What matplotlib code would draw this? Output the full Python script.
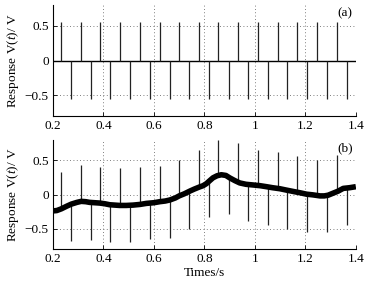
import numpy as np
import matplotlib.pyplot as plt

plt.rcParams['font.family'] = ['Liberation Serif', 'DejaVu Serif']
plt.rcParams['mathtext.fontset'] = 'custom'
plt.rcParams['mathtext.it'] = 'Liberation Serif:italic'
plt.rcParams['mathtext.rm'] = 'Liberation Serif'

# spike times (s)
pos_times = [0.230, 0.311, 0.386, 0.466, 0.545, 0.623, 0.700, 0.779,
             0.853, 0.933, 1.013, 1.091, 1.167, 1.248, 1.326]
neg_times = [0.271, 0.349, 0.426, 0.505, 0.585, 0.663, 0.739, 0.818,
             0.896, 0.973, 1.052, 1.128, 1.207, 1.285, 1.363]
spike_amp = 0.55

# (b) slow drift of the response
drift_t = [0.200, 0.215, 0.233, 0.255, 0.273, 0.295, 0.312, 0.330, 0.345, 0.365,
           0.385, 0.405, 0.425, 0.445, 0.464, 0.490, 0.517, 0.545, 0.570, 0.600,
           0.623, 0.645, 0.663, 0.685, 0.700, 0.720, 0.742, 0.760, 0.780, 0.795,
           0.808, 0.820, 0.834, 0.850, 0.867, 0.885, 0.900, 0.920, 0.940, 0.965,
           0.993, 1.020, 1.046, 1.070, 1.099, 1.125, 1.152, 1.180, 1.205, 1.230,
           1.258, 1.275, 1.290, 1.310, 1.330, 1.350, 1.375, 1.400]
drift_v = [-0.24, -0.235, -0.21, -0.17, -0.14, -0.115, -0.10, -0.105, -0.115, -0.12,
           -0.125, -0.135, -0.15, -0.155, -0.16, -0.16, -0.155, -0.145, -0.13, -0.12,
           -0.105, -0.095, -0.08, -0.05, -0.02, 0.01, 0.05, 0.08, 0.11, 0.13,
           0.16, 0.20, 0.245, 0.275, 0.29, 0.28, 0.245, 0.205, 0.17, 0.15,
           0.14, 0.13, 0.115, 0.10, 0.085, 0.065, 0.045, 0.025, 0.005, -0.005,
           -0.02, -0.02, -0.01, 0.02, 0.05, 0.09, 0.10, 0.115]

# (b) spike tips
pos_tips = [0.33, 0.44, 0.41, 0.385, 0.40, 0.42, 0.51, 0.66,
            0.80, 0.75, 0.66, 0.625, 0.57, 0.51, 0.58]
neg_tips = [-0.68, -0.67, -0.69, -0.69, -0.655, -0.63, -0.50, -0.33,
            -0.28, -0.39, -0.44, -0.50, -0.55, -0.55, -0.44]

xticks = [0.2, 0.4, 0.6, 0.8, 1.0, 1.2, 1.4]
xlabels = ['0.2', '0.4', '0.6', '0.8', '1', '1.2', '1.4']
yticks = [-0.5, 0, 0.5]
ylabels = ['\u22120.5', '0', '0.5']

fs = 9.5
fig = plt.figure(figsize=(3.73, 2.91), dpi=100)
ax1 = fig.add_axes([0.142, 0.601, 0.812, 0.382])
ax2 = fig.add_axes([0.142, 0.144, 0.812, 0.375])


def style(ax, tag):
    ax.set_xlim(0.2, 1.4)
    ax.set_ylim(-0.8, 0.8)
    ax.set_xticks(xticks)
    ax.set_xticklabels(xlabels)
    ax.set_yticks(yticks)
    ax.set_yticklabels(ylabels)
    ax.tick_params(direction='in', length=3, width=0.6, labelsize=fs, pad=3)
    for s in ['top', 'right']:
        ax.spines[s].set_visible(False)
    for s in ['left', 'bottom']:
        ax.spines[s].set_linewidth(0.8)
    ax.grid(True, linestyle=(0, (1, 3)), color='#555555', linewidth=0.6)
    ax.set_axisbelow(True)
    ax.set_ylabel('Response V($t$)/ V', fontsize=fs, labelpad=3)
    ax.text(0.99, 0.975, tag, transform=ax.transAxes, ha='right', va='top', fontsize=fs)


# (a) alternating pulses
ax1.hlines(0, 0.2, 1.4, color='black', lw=1.0)
ax1.vlines(pos_times, 0, spike_amp, color='#222222', lw=0.9)
ax1.vlines(neg_times, -spike_amp, 0, color='#222222', lw=0.9)
style(ax1, '(a)')

# (b) pulses riding on a drifting baseline
pos_base = np.interp(pos_times, drift_t, drift_v)
neg_base = np.interp(neg_times, drift_t, drift_v)
ax2.vlines(pos_times, pos_base, pos_tips, color='#222222', lw=0.9)
ax2.vlines(neg_times, neg_tips, neg_base, color='#222222', lw=0.9)
ax2.plot(drift_t, drift_v, color='black', lw=4.0, solid_capstyle='butt')
style(ax2, '(b)')
ax2.set_xlabel('Times/s', fontsize=fs, labelpad=1)

fig.savefig('out.png', dpi=100)
